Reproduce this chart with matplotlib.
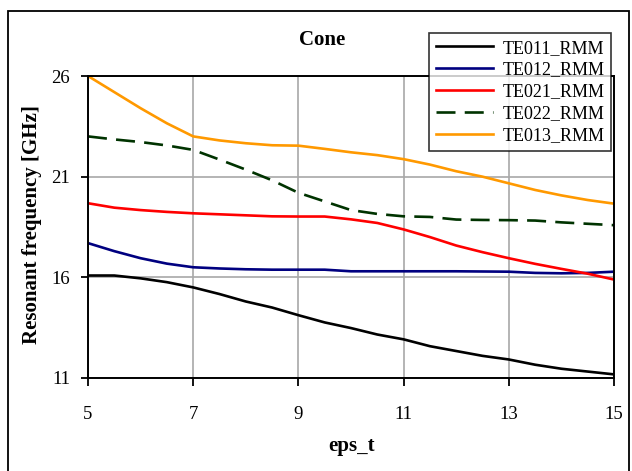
import matplotlib
matplotlib.use("Agg")
import matplotlib.pyplot as plt
from matplotlib.patches import Rectangle

plt.rcParams['font.family'] = ['Liberation Serif', 'DejaVu Serif']

# relative permittivity of the dielectric
eps_t = [5, 5.5, 6, 6.5, 7, 7.5, 8, 8.5, 9, 9.5, 10,
         10.5, 11, 11.5, 12, 12.5, 13, 13.5, 14, 14.5, 15]

# resonant frequencies [GHz] from the RMM solver
te011 = [16.09, 16.09, 15.95, 15.76, 15.50, 15.17, 14.80, 14.50, 14.12, 13.76, 13.48,
         13.16, 12.92, 12.58, 12.34, 12.10, 11.92, 11.66, 11.46, 11.32, 11.18]
te012 = [17.70, 17.30, 16.95, 16.68, 16.50, 16.44, 16.40, 16.38, 16.38, 16.38, 16.30,
         16.30, 16.30, 16.30, 16.30, 16.29, 16.28, 16.22, 16.20, 16.22, 16.28]
te021 = [19.68, 19.46, 19.34, 19.25, 19.18, 19.13, 19.08, 19.03, 19.02, 19.02, 18.88,
         18.70, 18.38, 18.00, 17.58, 17.25, 16.95, 16.67, 16.42, 16.18, 15.89]
te022 = [23.00, 22.85, 22.72, 22.55, 22.33, 21.85, 21.35, 20.82, 20.20, 19.77, 19.34,
         19.15, 19.03, 19.00, 18.87, 18.85, 18.84, 18.82, 18.73, 18.66, 18.59]
te013 = [26.00, 25.20, 24.40, 23.65, 23.00, 22.80, 22.66, 22.56, 22.54, 22.38, 22.21,
         22.07, 21.87, 21.60, 21.27, 21.00, 20.67, 20.34, 20.07, 19.84, 19.66]

series = [
    (te011, "TE011_RMM", "black", "-"),
    (te012, "TE012_RMM", "#000080", "-"),
    (te021, "TE021_RMM", "#ff0000", "-"),
    (te022, "TE022_RMM", "#003300", (0, (7.2, 3.5))),
    (te013, "TE013_RMM", "#ff9900", "-"),
]

fig = plt.figure(figsize=(6.32, 4.71), dpi=100)
ax = fig.add_axes([88/632, 1 - 378/471, (614 - 88)/632, (378 - 76)/471])

for vals, label, color, ls in series:
    ax.plot(eps_t, vals, color=color, linestyle=ls, linewidth=1.9, label=label)

ax.set_xlim(5, 15)
ax.set_ylim(11, 26)
ax.set_xticks([5, 7, 9, 11, 13, 15])
ax.set_yticks([11, 16, 21, 26])
ax.grid(True, color="#a8a8a8", linewidth=1.2)
ax.set_axisbelow(True)
for s in ax.spines.values():
    s.set_linewidth(1.4)
    s.set_color("black")
ax.tick_params(axis='x', direction='out', length=6, width=1.3, pad=14, labelsize=13.5)
ax.tick_params(axis='y', direction='out', length=5, width=1.3, pad=8, labelsize=13.5)

fig.text(322/632, 1 - 40/471, "Cone", ha='center', va='center',
         fontsize=15, fontweight='bold')
fig.text(352/632, 1 - 446/471, "eps_t", ha='center', va='center',
         fontsize=15, fontweight='bold')
fig.text(32/632, 1 - 225/471, "Resonant frequency [GHz]", ha='center', va='center',
         rotation=90, fontsize=15, fontweight='bold')

leg = fig.legend(loc='upper right', bbox_to_anchor=(611/632, 1 - 33/471),
                 fontsize=13, frameon=True, fancybox=False, handlelength=3.2,
                 labelspacing=0.27, borderpad=0.37, handletextpad=0.5,
                 borderaxespad=0)
leg.get_frame().set_edgecolor("black")
leg.get_frame().set_linewidth(1.2)

# outer chart border
fig.patches.append(Rectangle((8/632, -0.02), (629 - 8)/632, 0.02 + 1 - 11/471,
                             transform=fig.transFigure, fill=False,
                             edgecolor="black", linewidth=1.3))

fig.savefig("out.png", dpi=100)
